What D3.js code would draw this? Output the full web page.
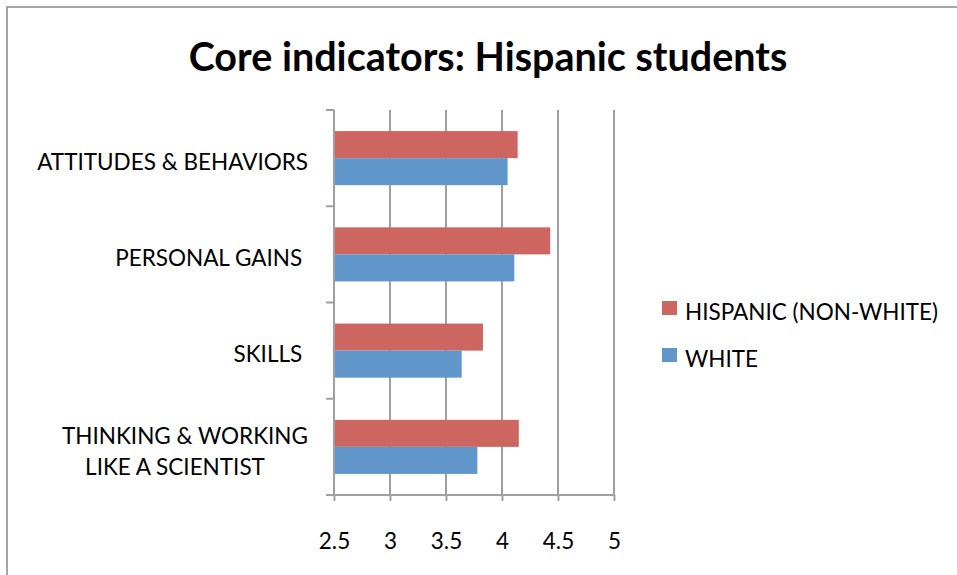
<!DOCTYPE html>
<html lang="en">
    <head>
        <meta charset="utf-8">
        <title>Core indicators: Hispanic students</title>
        <script src="https://d3js.org/d3.v7.min.js"></script>
        <style type="text/css">
            body { margin: 0; background: #fff; }
            text { font-family: Lato, "Open Sans", sans-serif; fill: #000; white-space: pre; }
            .title { font-size: 39.5px; font-weight: bold; }
            .labels { font-size: 22.5px; }
        </style>
    </head>
    <body>
        <script type="text/javascript">

            //Data
            const categories = ["ATTITUDES & BEHAVIORS", "PERSONAL GAINS ", "SKILLS ", "THINKING & WORKING\nLIKE A SCIENTIST"];
            const seriesNames = ["HISPANIC (NON-WHITE)", "WHITE"];
            const hispanic = [4.14, 4.43, 3.83, 4.15];
            const white = [4.05, 4.11, 3.64, 3.78];
            const xTicks = [2.5, 3, 3.5, 4, 4.5, 5];

            const w = 957;
            const h = 575;
            const myColor = d3.scaleOrdinal(seriesNames, ["#CD6661", "#6196CA"]);

            //rows for drawing
            const rows = categories.map((c, i) => ({cat: c, values: [
                {key: seriesNames[0], value: hispanic[i]},
                {key: seriesNames[1], value: white[i]}
            ]}));

            //scales
            const x = d3.scaleLinear().domain([2.5, 5]).range([334, 614]);
            const y0 = d3.scaleBand().domain(categories).range([110, 495]);
            const y1 = d3.scaleBand().domain(seriesNames).range([0, y0.bandwidth()]).paddingOuter(0.78);

            //SVG
            const svg = d3.select("body")
                    .append("svg")
                    .attr("width", w)
                    .attr("height", h);

            //chart frame
            svg.append("rect")
               .attr("x", 7).attr("y", 7)
               .attr("width", w + 10).attr("height", h + 10)
               .attr("fill", "none")
               .attr("stroke", "#a6a6a6")
               .attr("stroke-width", 2);

            //title
            svg.append("text")
               .attr("class", "title")
               .attr("x", 488)
               .attr("y", 71)
               .attr("text-anchor", "middle")
               .text("Core indicators: Hispanic students");

            //vertical gridlines
            svg.append("g")
               .selectAll("line")
               .data(xTicks.slice(1))
               .join("line")
               .attr("x1", d => x(d)).attr("x2", d => x(d))
               .attr("y1", y0.range()[0]).attr("y2", y0.range()[1])
               .attr("stroke", "#a0a0a0")
               .attr("stroke-width", 2);

            //bars
            const groups = svg.selectAll("g.cat")
                    .data(rows)
                    .join("g")
                    .attr("class", "cat")
                    .attr("transform", d => "translate(0," + y0(d.cat) + ")");

            groups.selectAll("rect")
                  .data(d => d.values)
                  .join("rect")
                  .attr("x", x(2.5))
                  .attr("y", d => y1(d.key))
                  .attr("width", d => x(d.value) - x(2.5))
                  .attr("height", y1.bandwidth())
                  .attr("fill", d => myColor(d.key));

            //x axis
            const xAxis = svg.append("g")
                    .attr("transform", "translate(0," + y0.range()[1] + ")")
                    .call(d3.axisBottom(x).tickValues(xTicks).tickSize(6).tickSizeOuter(0).tickPadding(32).tickFormat(d3.format("")));

            //y axis (ticks at category boundaries)
            const yAxis = svg.append("g")
                    .attr("transform", "translate(" + x(2.5) + ",0)");
            yAxis.append("line")
                 .attr("x1", 0).attr("x2", 0)
                 .attr("y1", y0.range()[0]).attr("y2", y0.range()[1]);
            yAxis.selectAll("line.tick")
                 .data(categories.map(c => y0(c)).concat([y0.range()[1]]))
                 .join("line")
                 .attr("class", "tick")
                 .attr("x1", -8).attr("x2", 0)
                 .attr("y1", d => d).attr("y2", d => d);
            yAxis.selectAll("line").attr("stroke", "#a0a0a0").attr("stroke-width", 2);

            xAxis.selectAll(".domain, .tick line").attr("stroke", "#a0a0a0").attr("stroke-width", 2);
            xAxis.selectAll("text").attr("class", "labels").attr("fill", "#000");
            xAxis.select(".domain").attr("d", "M" + x(2.5) + ",0H" + x(5));

            //category labels
            const catLabels = svg.append("g").selectAll("text")
                    .data(categories)
                    .join("text")
                    .attr("class", "labels")
                    .attr("dominant-baseline", "central");
            catLabels.each(function(d) {
                const lines = d.split("\n");
                const t = d3.select(this);
                const cy = y0(d) + y0.bandwidth() / 2 + 3;
                if (lines.length === 1) {
                    t.attr("x", 308).attr("y", cy).attr("text-anchor", "end").text(d);
                } else {
                    t.append("tspan").attr("x", 308).attr("y", cy - 15).attr("text-anchor", "end").text(lines[0]);
                    t.append("tspan").attr("x", 175).attr("y", cy + 16).attr("text-anchor", "middle").text(lines[1]);
                }
            });

            //legend
            const legend = svg.append("g").selectAll("g")
                    .data(seriesNames)
                    .join("g")
                    .attr("transform", (d, i) => "translate(662," + (301 + i * 47) + ")");
            legend.append("rect")
                  .attr("width", 15).attr("height", 14)
                  .attr("fill", d => myColor(d));
            legend.append("text")
                  .attr("class", "labels")
                  .attr("x", 23).attr("y", 10)
                  .attr("dominant-baseline", "central")
                  .text(d => d);

        </script>
    </body>
</html>
